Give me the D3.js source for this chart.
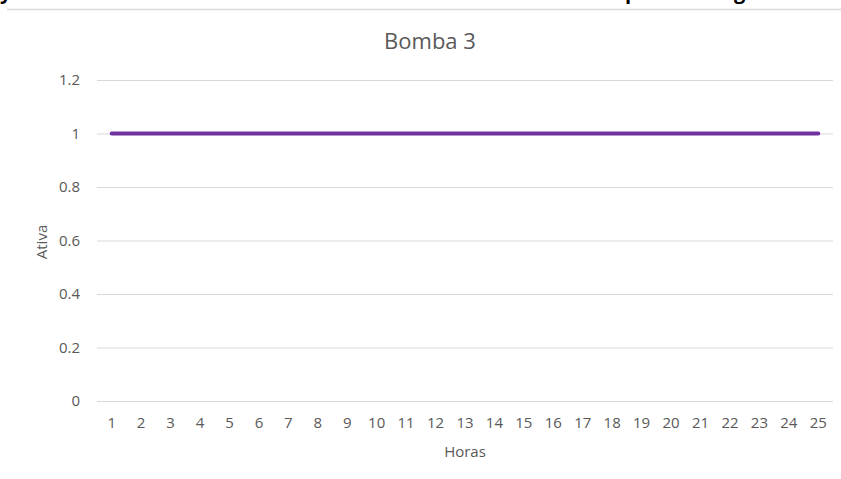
<!DOCTYPE html>
<html>
<head>
<meta charset="utf-8">
<script src="https://cdn.jsdelivr.net/npm/d3@7"></script>
<style>
  body { margin: 0; background: #fff; }
  svg text { font-family: "Open Sans", "Noto Sans", sans-serif; fill: #595959; }
  .grid line { stroke: #d9d9d9; stroke-width: 1; }
  .grid .domain { display: none; }
</style>
</head>
<body>
<div id="chart"></div>
<script>
// hours on the x axis
var horas = [1, 2, 3, 4, 5, 6, 7, 8, 9, 10, 11, 12, 13, 14, 15, 16, 17, 18, 19, 20, 21, 22, 23, 24, 25];
// pump 3 state (1 = active)
var ativa = [1, 1, 1, 1, 1, 1, 1, 1, 1, 1, 1, 1, 1, 1, 1, 1, 1, 1, 1, 1, 1, 1, 1, 1, 1];
var yTicks = [0, 0.2, 0.4, 0.6, 0.8, 1, 1.2];

var width = 841, height = 479;
var margin = { top: 80, right: 8, bottom: 78, left: 97 };
var w = width - margin.left - margin.right;
var h = height - margin.top - margin.bottom;

var svg = d3.select("#chart").append("svg")
  .attr("width", width)
  .attr("height", height);

// bits of the document text cut off above the chart
svg.append("g").selectAll("text")
  .data([{ t: "y", x: 0 }, { t: "p", x: 625 }, { t: "g", x: 734 }])
  .enter().append("text")
  .attr("x", function(d) { return d.x; })
  .attr("y", -1)
  .style("fill", "#000")
  .style("font-weight", "bold")
  .style("font-size", "20px")
  .text(function(d) { return d.t; });

// chart frame top border
svg.append("line")
  .attr("x1", 7).attr("x2", width)
  .attr("y1", 9.5).attr("y2", 9.5)
  .attr("stroke", "#d9d9d9")
  .attr("stroke-width", 1.5);

var g = svg.append("g")
  .attr("transform", "translate(" + margin.left + "," + margin.top + ")");

var x = d3.scaleBand().domain(horas).range([0, w]);
var y = d3.scaleLinear().domain([0, 1.2]).range([h, 0]);

// horizontal gridlines
g.append("g")
  .attr("class", "grid")
  .call(d3.axisLeft(y).tickValues(yTicks).tickSize(-w).tickFormat(""));

// y labels
g.append("g").selectAll("text")
  .data(yTicks)
  .enter().append("text")
  .attr("x", -17)
  .attr("y", function(d) { return y(d); })
  .attr("dy", "0.35em")
  .attr("text-anchor", "end")
  .style("font-size", "15px")
  .text(function(d) { return d; });

// x labels
g.append("g").selectAll("text")
  .data(horas)
  .enter().append("text")
  .attr("x", function(d) { return x(d) + x.bandwidth() / 2; })
  .attr("y", h + 27)
  .attr("text-anchor", "middle")
  .style("font-size", "15px")
  .text(function(d) { return d; });

// the series
var line = d3.line()
  .x(function(d, i) { return x(horas[i]) + x.bandwidth() / 2; })
  .y(function(d) { return y(d); });

g.append("path")
  .datum(ativa)
  .attr("d", line)
  .attr("fill", "none")
  .attr("stroke", "#7030a0")
  .attr("stroke-width", 4)
  .attr("stroke-linecap", "round");

// title
svg.append("text")
  .attr("x", 430)
  .attr("y", 49)
  .attr("text-anchor", "middle")
  .style("font-size", "22px")
  .text("Bomba 3");

// axis titles
svg.append("text")
  .attr("x", margin.left + w / 2)
  .attr("y", 457)
  .attr("text-anchor", "middle")
  .style("font-size", "15px")
  .text("Horas");

svg.append("text")
  .attr("transform", "translate(47,242) rotate(-90)")
  .attr("text-anchor", "middle")
  .style("font-size", "15px")
  .text("Ativa");
</script>
</body>
</html>
